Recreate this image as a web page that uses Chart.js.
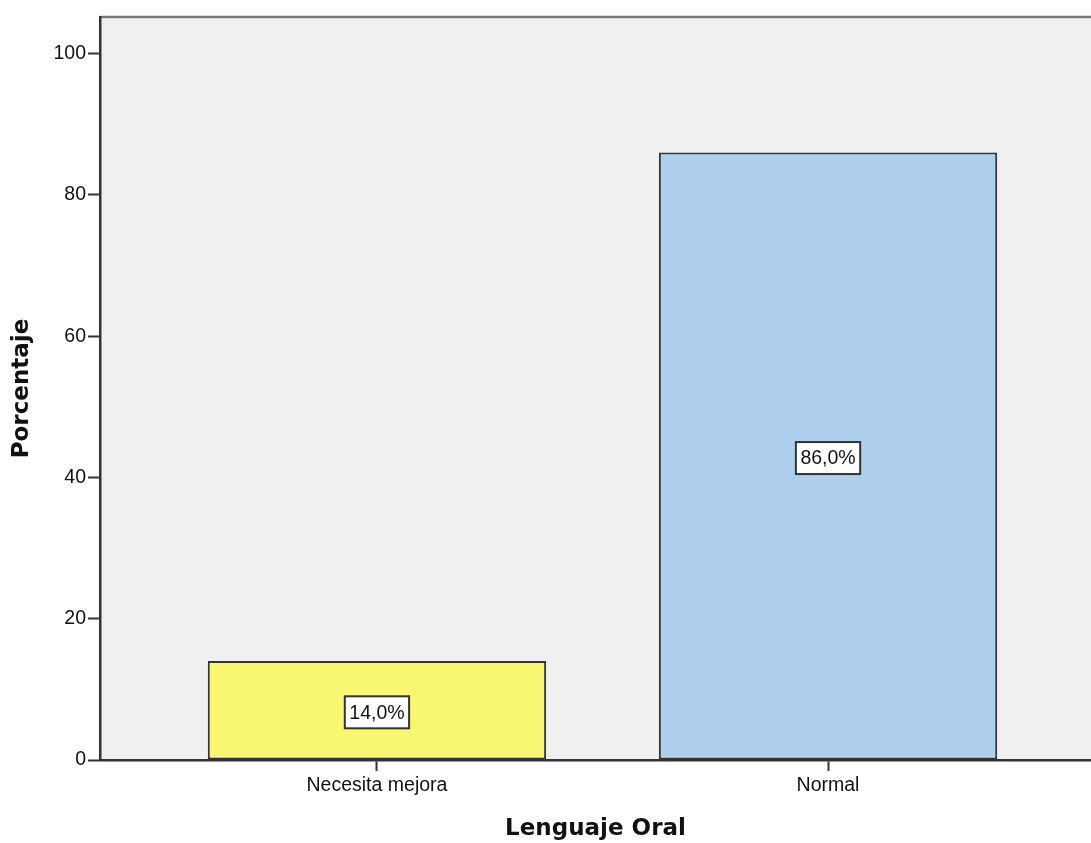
<!DOCTYPE html>
<html>
<head>
<meta charset="utf-8">
<script src="https://cdn.jsdelivr.net/npm/chart.js@4/dist/chart.umd.min.js"></script>
<style>
  html, body { margin: 0; padding: 0; background: #fff; }
  #wrap { width: 1091px; height: 843px; position: relative; }
</style>
</head>
<body>
<div id="wrap"><canvas id="myChart"></canvas></div>
<script>
const categorias = ["Necesita mejora", "Normal"]
const porcentajes = [14.0, 86.0]
const colores = ["#f9f772", "#aecfee"]
const ticksY = [0, 20, 40, 60, 80, 100]

// fondo gris del area y linea superior
const fondo = {
  id: "fondo",
  beforeDraw(chart) {
    const { ctx, chartArea: a } = chart
    ctx.save()
    ctx.fillStyle = "#f0f0f0"
    ctx.fillRect(a.left, a.top, a.right - a.left, a.bottom - a.top)
    ctx.strokeStyle = "#7a7a7a"
    ctx.lineWidth = 2.5
    ctx.beginPath()
    ctx.moveTo(a.left, a.top)
    ctx.lineTo(a.right, a.top)
    ctx.stroke()
    ctx.restore()
  }
}

// etiquetas con caja blanca en el medio de cada barra
const etiquetas = {
  id: "etiquetas",
  afterDatasetsDraw(chart) {
    const { ctx } = chart
    const meta = chart.getDatasetMeta(0)
    ctx.save()
    ctx.font = "19.5px 'Liberation Sans', Arial, sans-serif"
    ctx.textAlign = "center"
    ctx.textBaseline = "middle"
    meta.data.forEach((bar, i) => {
      const txt = porcentajes[i].toFixed(1).replace(".", ",") + "%"
      const cx = bar.x
      const cy = (bar.y + bar.base) / 2 + 2
      const w = ctx.measureText(txt).width + 9
      const h = 32
      ctx.fillStyle = "#ffffff"
      ctx.fillRect(cx - w / 2, cy - h / 2, w, h)
      ctx.strokeStyle = "#333"
      ctx.lineWidth = 2
      ctx.strokeRect(cx - w / 2, cy - h / 2, w, h)
      ctx.fillStyle = "#111"
      ctx.fillText(txt, cx, cy + 1)
    })
    ctx.restore()
  }
}

const ctx = document.getElementById("myChart").getContext("2d")

new Chart(ctx, {
  type: "bar",
  data: {
    datasets: [{
      label: "Porcentaje",
      data: categorias.map((c, i) => ({ x: i + 1, y: porcentajes[i] })),
      backgroundColor: colores,
      borderColor: "#333",
      borderWidth: 2,
      borderSkipped: false,
      barPercentage: 0.75,
      categoryPercentage: 1
    }]
  },
  options: {
    responsive: true,
    maintainAspectRatio: false,
    animation: false,
    layout: { padding: { top: 17, right: 0, left: 0, bottom: 0 } },
    plugins: {
      legend: { display: false },
      tooltip: { enabled: false }
    },
    scales: {
      x: {
        type: "linear",
        min: 0.386,
        max: 2.583,
        offset: false,
        afterBuildTicks: (scale) => { scale.ticks = categorias.map((c, i) => ({ value: i + 1 })) },
        afterFit: (scale) => { scale.height = 83 },
        ticks: {
          autoSkip: false,
          maxRotation: 0,
          padding: 3,
          color: "#111",
          font: { family: "'Liberation Sans', Arial, sans-serif", size: 19.5 },
          callback: (v) => categorias[v - 1]
        },
        grid: {
          offset: false,
          drawOnChartArea: false,
          drawTicks: true,
          tickLength: 11,
          tickColor: "#333",
          tickWidth: 2
        },
        border: { color: "#333", width: 2.5 },
        title: {
          display: true,
          text: "Lenguaje Oral",
          color: "#111",
          padding: { top: 0, bottom: 0 },
          font: { family: "'DejaVu Sans', sans-serif", size: 23, weight: "bold" }
        }
      },
      y: {
        min: 0,
        max: 105.2,
        afterBuildTicks: (scale) => { scale.ticks = ticksY.map(v => ({ value: v })) },
        afterFit: (scale) => { scale.width = 100 },
        ticks: {
          padding: 2,
          color: "#111",
          font: { family: "'Liberation Sans', Arial, sans-serif", size: 19.5 }
        },
        grid: {
          drawOnChartArea: false,
          drawTicks: true,
          tickLength: 12,
          tickColor: "#333",
          tickWidth: 2
        },
        border: { color: "#333", width: 2.5 },
        title: {
          display: true,
          text: "Porcentaje",
          color: "#111",
          padding: { top: 8, bottom: 0 },
          font: { family: "'DejaVu Sans', sans-serif", size: 23, weight: "bold" }
        }
      }
    }
  },
  plugins: [fondo, etiquetas]
})
</script>
</body>
</html>
